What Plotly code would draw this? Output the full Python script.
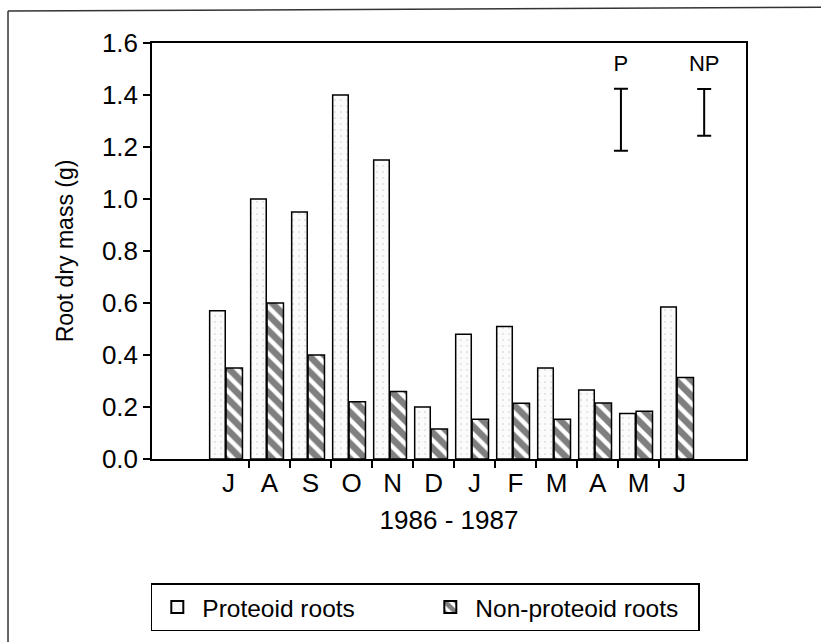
import plotly.graph_objects as go

# ---- data ----
months = ["J", "A", "S", "O", "N", "D", "J", "F", "M", "A", "M", "J"]
proteoid = [0.57, 1.00, 0.95, 1.40, 1.15, 0.20, 0.48, 0.51, 0.35, 0.265, 0.175, 0.585]
non_proteoid = [0.35, 0.60, 0.40, 0.22, 0.26, 0.115, 0.153, 0.214, 0.153, 0.215, 0.184, 0.313]
err_labels = ["P", "NP"]
err_x = [9.57, 11.6]
err_center = [1.305, 1.333]
err_half = [0.119, 0.090]
y_ticks = [0.0, 0.2, 0.4, 0.6, 0.8, 1.0, 1.2, 1.4, 1.6]

idx = list(range(len(months)))
FONT = "Liberation Sans, Arial, Helvetica, sans-serif"

fig = go.Figure()

fig.add_trace(go.Bar(
    x=idx, y=proteoid, name="Proteoid roots",
    offset=-0.46, width=0.38,
    marker=dict(color="#fafafa", line=dict(color="black", width=1.5),
                pattern=dict(shape=".", fgcolor="#c4c4c4", bgcolor="#fbfbfb",
                             size=6, solidity=0.08)),
))
fig.add_trace(go.Bar(
    x=idx, y=non_proteoid, name="Non-proteoid roots",
    offset=-0.06, width=0.40,
    marker=dict(color="white", line=dict(color="black", width=1.5),
                pattern=dict(shape="\\", fgcolor="black", bgcolor="white",
                             size=11, solidity=0.6)),
))

# error-bar key (P / NP)
fig.add_trace(go.Scatter(
    x=err_x, y=err_center, mode="markers", showlegend=False,
    marker=dict(size=0.1, color="black"),
    error_y=dict(type="data", array=err_half, visible=True,
                 color="black", thickness=2, width=7),
    hoverinfo="skip",
))
fig.add_trace(go.Scatter(
    x=err_x, y=[c + h + 0.09 for c, h in zip(err_center, err_half)],
    mode="text", text=err_labels, showlegend=False,
    textfont=dict(size=22, color="black", family=FONT),
    hoverinfo="skip",
))

fig.update_layout(
    width=821, height=642,
    margin=dict(l=152, r=75, t=43, b=182),
    paper_bgcolor="white", plot_bgcolor="white",
    font=dict(family=FONT, size=24, color="black"),
    barmode="overlay",
    showlegend=True,
    legend=dict(
        orientation="h", x=-0.002, y=-0.295, xanchor="left", yanchor="top",
        bordercolor="black", borderwidth=1.5, bgcolor="white",
        font=dict(size=24.5, family=FONT), entrywidth=218,
        itemsizing="constant", itemwidth=40,
    ),
    xaxis=dict(
        range=[-1.866, 12.62],
        tickmode="array", tickvals=idx, ticktext=months,
        ticks="", ticklabelstandoff=0,
        minor=dict(tickmode="array", tickvals=[i + 0.5 for i in idx[:-1]],
                   ticks="outside", ticklen=7, tickwidth=1.5, tickcolor="black"),
        showline=True, linecolor="black", linewidth=1.5, mirror=True,
        showgrid=False, zeroline=False,
        title=dict(text="1986 - 1987", font=dict(size=26), standoff=14),
        tickfont=dict(size=26),
    ),
    yaxis=dict(
        range=[0, 1.6],
        tickmode="array", tickvals=y_ticks,
        ticktext=[f"{v:.1f}" for v in y_ticks],
        ticks="outside", ticklen=7, tickwidth=1.5, tickcolor="black",
        showline=True, linecolor="black", linewidth=1.5, mirror=True,
        showgrid=False, zeroline=False,
        title=dict(text="Root dry mass (g)", font=dict(size=23), standoff=22),
        tickfont=dict(size=26),
    ),
    shapes=[
        dict(type="line", xref="paper", yref="paper",
             x0=-0.2424, x1=1.1263, y0=1.0767, y1=1.086,
             line=dict(color="#333", width=1.5)),
        dict(type="line", xref="paper", yref="paper",
             x0=-0.2424, x1=-0.2424, y0=1.0767, y1=-0.44,
             line=dict(color="#333", width=1.5)),
    ],
)

fig.write_html("out.html", config={"displayModeBar": False})
